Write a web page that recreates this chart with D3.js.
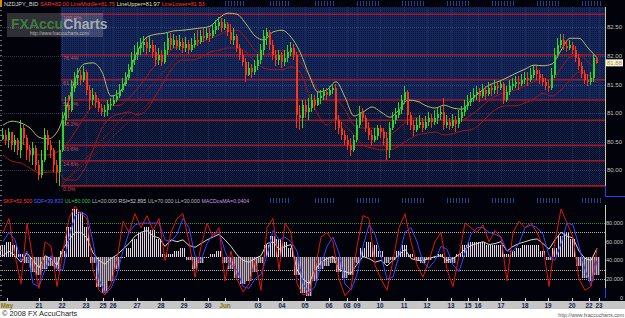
<!DOCTYPE html>
<html>
<head>
<meta charset="utf-8">
<title>NZDJPY_BID</title>
<script src="https://cdn.jsdelivr.net/npm/d3@7"></script>
<style>
  body { margin: 0; background: #fff; }
  svg { display: block; font-family: "Liberation Sans", Arial, sans-serif; }
</style>
</head>
<body>
<svg id="chart" width="625" height="318"></svg>
<script>
// ---- price bars (open = previous close) ----
const firstOpen = 80.55;
const closes = [
  80.62,80.53,80.67,80.44,80.53,80.36,80.74,80.57,80.36,80.27,
  80.39,80.09,79.92,80.18,80.62,80.44,80.36,80.09,79.97,80.36,
  80.88,81.14,81.06,81.44,81.62,81.67,81.58,81.72,81.41,81.23,
  81.32,81.20,81.09,81.02,81.06,81.16,81.16,81.23,81.30,81.41,
  81.51,81.62,81.72,81.93,82.02,82.14,82.19,82.24,82.14,82.19,
  82.07,81.93,82.02,81.90,82.10,82.31,82.19,82.28,82.17,82.24,
  82.14,82.21,82.10,82.19,82.28,82.24,82.35,82.31,82.40,82.35,
  82.45,82.52,82.59,82.49,82.56,82.42,82.28,82.35,82.14,82.02,
  81.90,81.67,81.79,81.72,81.83,81.93,82.10,82.35,82.42,82.19,
  82.02,81.93,82.02,81.90,81.97,82.07,82.14,82.02,80.97,80.92,
  81.14,81.02,81.09,81.23,81.14,81.27,81.30,81.37,81.32,81.41,
  81.44,80.88,80.74,80.62,80.53,80.44,80.36,80.53,80.79,81.02,
  80.92,80.74,80.62,80.53,80.60,80.74,80.67,80.57,80.36,80.74,
  80.88,80.97,81.06,81.23,81.37,80.97,80.79,80.71,80.79,80.85,
  80.74,80.85,80.92,80.85,80.92,80.99,81.02,80.79,80.85,80.78,
  80.88,80.81,80.92,81.02,81.13,81.20,81.27,81.32,81.37,81.30,
  81.41,81.34,81.44,81.41,81.48,81.44,81.51,81.23,81.37,81.48,
  81.51,81.55,81.51,81.58,81.62,81.58,81.67,81.76,81.69,81.62,
  81.55,81.48,81.44,81.67,82.02,82.19,82.28,82.17,82.14,82.19,
  82.10,81.97,81.83,81.69,81.58,81.55,81.62,81.97,81.88
];
const highs = [
  80.74,80.71,80.74,80.67,80.62,80.57,80.88,80.79,80.62,80.44,
  80.50,80.44,80.18,80.36,80.74,80.71,80.53,80.39,80.18,80.53,
  81.02,81.28,81.32,81.58,81.72,81.79,81.76,81.83,81.76,81.49,
  81.44,81.37,81.27,81.16,81.14,81.23,81.27,81.32,81.41,81.51,
  81.62,81.72,81.86,82.07,82.19,82.24,82.31,82.35,82.31,82.35,
  82.28,82.19,82.14,82.10,82.24,82.42,82.40,82.38,82.35,82.37,
  82.31,82.33,82.28,82.31,82.40,82.45,82.45,82.49,82.51,82.49,
  82.56,82.63,82.68,82.66,82.65,82.59,82.56,82.49,82.38,82.21,
  82.10,81.97,81.90,81.86,81.93,82.03,82.21,82.45,82.49,82.45,
  82.28,82.10,82.10,82.07,82.10,82.19,82.24,82.21,82.07,81.14,
  81.23,81.23,81.27,81.34,81.32,81.37,81.41,81.44,81.44,81.48,
  81.51,81.51,80.97,80.85,80.71,80.62,80.57,80.62,80.92,81.13,
  81.09,80.97,80.85,80.71,80.74,80.79,80.79,80.74,80.67,80.85,
  81.02,81.09,81.20,81.32,81.48,81.41,81.02,80.88,80.92,80.97,
  80.92,80.95,81.02,80.99,81.06,81.09,81.13,81.27,80.97,80.92,
  80.99,80.95,81.06,81.13,81.23,81.32,81.37,81.44,81.48,81.44,
  81.51,81.48,81.55,81.51,81.58,81.55,81.58,81.55,81.48,81.58,
  81.62,81.65,81.65,81.69,81.72,81.72,81.79,81.84,81.83,81.76,
  81.69,81.62,81.58,81.79,82.14,82.31,82.38,82.38,82.28,82.28,
  82.24,82.17,82.03,81.90,81.76,81.69,81.72,82.02,81.97
];
const lows = [
  80.53,80.44,80.39,80.36,80.32,80.27,80.22,80.44,80.18,80.15,
  80.09,80.01,79.83,79.87,80.15,80.36,80.22,79.97,79.78,79.73,
  80.32,80.79,80.92,81.02,81.37,81.49,81.49,81.55,81.32,81.06,
  81.14,81.09,81.02,80.95,80.93,80.95,81.06,81.13,81.20,81.27,
  81.37,81.48,81.58,81.72,81.84,81.93,82.02,82.07,82.02,82.07,
  81.97,81.83,81.84,81.83,81.86,82.02,82.10,82.14,82.10,82.10,
  82.05,82.07,82.03,82.07,82.14,82.17,82.21,82.24,82.28,82.24,
  82.31,82.38,82.45,82.42,82.45,82.35,82.21,82.19,82.07,81.93,
  81.83,81.55,81.65,81.62,81.67,81.76,81.86,82.02,82.19,82.10,
  81.93,81.83,81.84,81.79,81.83,81.90,82.00,81.93,80.74,80.71,
  80.74,80.92,80.88,81.02,81.06,81.13,81.16,81.23,81.23,81.30,
  81.34,80.71,80.64,80.53,80.44,80.36,80.25,80.32,80.50,80.74,
  80.85,80.67,80.53,80.44,80.50,80.53,80.57,80.44,80.18,80.22,
  80.71,80.81,80.92,80.99,81.16,80.79,80.71,80.60,80.67,80.74,
  80.67,80.71,80.78,80.74,80.79,80.81,80.88,80.71,80.74,80.71,
  80.74,80.67,80.74,80.85,80.95,81.06,81.13,81.20,81.23,81.20,
  81.27,81.23,81.30,81.30,81.34,81.34,81.41,81.16,81.20,81.32,
  81.41,81.44,81.41,81.48,81.51,81.48,81.55,81.62,81.58,81.51,
  81.48,81.41,81.37,81.41,81.62,81.97,82.14,82.10,82.07,82.10,
  82.03,81.90,81.76,81.62,81.51,81.48,81.49,81.55,81.86
];

// envelope lines, one value every 3 bars
const bandStep = 3;
const bandUpper = [
  80.79,80.86,80.83,80.74,80.58,80.55,80.67,81.06,81.58,81.86,
  81.88,81.72,81.30,81.37,81.72,82.10,82.33,82.38,82.40,82.44,
  82.45,82.47,82.49,82.52,82.66,82.75,82.73,82.56,82.35,82.28,
  82.42,82.45,82.33,82.07,81.67,81.37,81.41,81.55,81.28,80.95,
  81.02,81.11,81.02,80.93,81.06,81.23,81.21,81.13,81.09,81.14,
  81.09,81.07,81.23,81.37,81.49,81.55,81.62,81.70,81.77,81.84,
  81.83,81.86,82.10,82.31,82.31,82.14,81.97
];
const bandMiddle = [
  80.53,80.51,80.48,80.39,80.27,80.27,80.32,80.44,80.67,80.92,
  81.14,81.23,81.13,81.14,81.27,81.44,81.65,81.86,82.02,82.14,
  82.17,82.19,82.24,82.30,82.37,82.44,82.45,82.31,82.10,82.02,
  82.07,82.10,82.07,81.90,81.67,81.41,81.23,81.23,81.06,80.79,
  80.74,80.74,80.71,80.64,80.74,80.88,80.92,80.88,80.88,80.88,
  80.86,80.88,80.97,81.09,81.23,81.32,81.37,81.41,81.48,81.55,
  81.60,81.58,81.79,81.98,82.02,81.90,81.75
];
const bandLower = [
  80.27,80.16,80.13,80.04,79.95,79.97,79.97,79.83,79.83,80.01,
  80.36,80.74,80.93,80.99,81.02,80.97,81.06,81.32,81.58,81.83,
  81.93,81.93,81.98,82.07,82.10,82.14,82.14,82.07,81.90,81.79,
  81.76,81.76,81.81,81.72,81.32,80.97,80.79,80.92,80.79,80.62,
  80.44,80.39,80.36,80.36,80.43,80.53,80.62,80.65,80.67,80.62,
  80.64,80.69,80.71,80.81,80.97,81.09,81.13,81.13,81.18,81.25,
  81.35,81.30,81.41,81.58,81.72,81.67,81.53
];

// oscillators, one value every 2 bars
const oscStep = 2;
const stochK = [
  70,85,45,15,80,40,10,60,55,12, 50,85,98,90,85,30,8,3,15,40,
  82,70,90,75,88,72,85,40,70,85, 90,60,22,55,80,65,75,18,50,20,
  6,15,40,8,75,85,30,80,70,15, 3,5,30,65,70,60,20,2,10,55,
  88,85,35,20,8,40,75,90,60,35, 22,40,60,70,30,12,45,80,75,70,
  78,60,72,65,18,70,82,75,80,70, 55,12,60,95,80,65,20,8,12,52.5
];
const stochD = [
  60,70,62,40,50,15,12,30,45,30, 30,65,88,92,88,60,20,5,10,25,
  50,70,78,80,80,80,80,62,60,68, 85,75,45,40,58,68,70,50,35,30,
  12,10,20,25,45,72,62,65,60,50, 15,5,12,35,55,65,48,15,8,25,
  55,78,68,45,20,22,45,70,75,60, 38,32,40,55,52,35,28,48,68,75,
  75,70,68,65,50,50,58,75,78,75, 68,45,40,58,80,78,55,30,13,39.8
];
const rsi = [
  45,50,45,38,48,40,32,45,42,35, 52,62,70,70,64,48,40,36,42,46,
  52,58,66,70,72,66,64,55,62,60, 62,56,54,58,62,65,68,62,55,46,
  40,38,42,45,58,60,52,55,57,30, 20,15,30,38,42,44,30,28,26,36,
  44,42,38,40,34,40,46,52,42,40, 40,42,44,45,40,42,46,52,56,58,
  60,57,58,60,50,55,58,60,62,63, 58,52,62,70,66,64,50,42,40,52.9
];
const osma = [
  0.04,0.05,0.04,0.01,-0.02,-0.05,-0.06,-0.04,-0.03,-0.04,
  0.02,0.10,0.16,0.15,0.10,-0.02,-0.10,-0.12,-0.08,-0.04,
  0.00,0.03,0.06,0.08,0.10,0.09,0.06,0.01,0.01,0.02,
  0.03,-0.01,-0.04,-0.02,0.00,0.01,0.02,-0.02,-0.04,-0.07,
  -0.09,-0.08,-0.05,-0.02,0.04,0.07,0.06,0.05,0.03,-0.06,
  -0.12,-0.13,-0.08,-0.04,-0.03,-0.02,-0.05,-0.07,-0.06,-0.02,
  0.03,0.05,0.04,0.02,-0.02,-0.01,0.02,0.04,0.01,-0.01,
  -0.02,-0.01,0.00,0.01,-0.02,-0.02,0.01,0.04,0.05,0.05,
  0.05,0.04,0.04,0.04,0.01,0.02,0.03,0.04,0.04,0.04,
  0.02,-0.01,0.03,0.07,0.08,0.06,-0.03,-0.07,-0.08,-0.06
];

const priceTicks = [82.5, 82.0, 81.5, 81.0, 80.5, 80.0];
const oscTicks = [80, 60, 40, 20, 0];
const fibLevels = [1, 0.764, 0.618, 0.5, 0.382, 0.236, 0.146, 0];
const fibLabels = ["100.0%", "76.4%", "61.8%", "50.0%", "38.2%", "23.6%", "14.6%", "0.0%"];
const fibHigh = 82.73, fibLow = 79.73, fibStartBar = 19.3;
const fanLines = [[19.3, 79.73, 60, 82.10], [19.3, 79.73, 52, 81.35]];
const dayLabels = ["May","21","22","23","25","26","27","28","29","30","Jun","03","04","05",
  "06","08","09","10","11","12","13","15","16","17","18","19","20","22","23"];
const dayBars = [1.3,12,19.7,27.7,33.3,36.7,44.7,52.7,60.3,68.3,74,85,93,100.7,
  108.7,114.7,118,125.7,133.7,141.3,149.3,155,158.3,166,174,181.7,189.7,195.3,198.7];
const titleParts = [
  ["NZDJPY_BID", "#d8d8d8"], ["SAR=82.00", "#ff3030"], ["LineMiddle=81.75", "#ff3030"],
  ["LineUpper=81.97", "#e0e0b8"], ["LineLower=81.53", "#ff3030"]
];
const oscParts = [
  ["SKF=52.500", "#ff3030"], ["SDF=39.833", "#4a5cff"], ["UL=80.000", "#30c050"],
  ["LL=20.000", "#b8b8b8"], ["RSI=52.895", "#c8c8c8"], ["UL=70.000", "#b8b8b8"],
  ["LL=30.000", "#b8b8b8"], ["MACDosMA=0.0404", "#c898e0"]
];

// ---- layout ----
const svg = d3.select("#chart");
const W = 625;
const plotR = 605;
const mainTop = 7, mainBot = 196;
const oscTop = 205, oscBot = 298;

const x = d3.scaleLinear().domain([0, closes.length - 1]).range([3, 597]);
const y = d3.scaleLinear().domain([80, 82.5]).range([170.4, 27.4]);
const yo = d3.scaleLinear().domain([0, 100]).range([297.7, 204.4]);
const ym = d3.scaleLinear().domain([-0.15, 0.15]).range([302, 212]);

const defs = svg.append("defs");
function pattern(id, w, h, bg, cells) {
  const p = defs.append("pattern").attr("id", id)
    .attr("width", w).attr("height", h).attr("patternUnits", "userSpaceOnUse");
  if (bg) p.append("rect").attr("width", w).attr("height", h).attr("fill", bg);
  cells.forEach(c => p.append("rect").attr("x", c[0]).attr("y", c[1])
    .attr("width", c[2]).attr("height", c[3]).attr("fill", c[4]));
}
pattern("fibTop", 2, 2, "#15275a", [[1, 1, 1, 1, "#0a1638"]]);
pattern("fibLow", 2, 2, "#13234f", [[1, 0, 1, 1, "#050a1e"], [0, 1, 1, 1, "#050a1e"]]);
pattern("posBars", 2, 2, null, [[0, 0, 1, 2, "#e2d4e2"]]);
pattern("negBars", 2, 2, "#463e48", [[0, 0, 1, 2, "#c2b2c2"]]);
pattern("ticks", 3, 5, null, [[0, 0, 1, 5, "#28408a"]]);

defs.append("clipPath").attr("id", "clipMain").append("rect")
  .attr("x", 0).attr("y", mainTop).attr("width", plotR).attr("height", mainBot - mainTop);
defs.append("clipPath").attr("id", "clipOsc").append("rect")
  .attr("x", 0).attr("y", oscTop).attr("width", plotR).attr("height", oscBot - oscTop);

// backgrounds
svg.append("rect").attr("width", W).attr("height", 318).attr("fill", "#fff");
svg.append("rect").attr("width", W).attr("height", 301).attr("fill", "#02020a");
svg.append("rect").attr("y", 301).attr("width", W).attr("height", 8).attr("fill", "#c6c6c6");

// ---- main panel ----
const main = svg.append("g").attr("clip-path", "url(#clipMain)");
const fibLeft = x(fibStartBar);
const fibY = lv => y(fibLow + lv * (fibHigh - fibLow));

main.append("rect").attr("x", fibLeft).attr("y", mainTop)
  .attr("width", plotR - fibLeft).attr("height", fibY(0.5) - mainTop).attr("fill", "url(#fibTop)");
main.append("rect").attr("x", fibLeft).attr("y", fibY(0.5))
  .attr("width", plotR - fibLeft).attr("height", fibY(0) - fibY(0.5)).attr("fill", "url(#fibLow)");

// faint grid
main.selectAll("line.hgrid").data(priceTicks).join("line")
  .attr("x1", 0).attr("x2", plotR)
  .attr("y1", d => Math.round(y(d)) + 0.5).attr("y2", d => Math.round(y(d)) + 0.5)
  .attr("stroke", "#6f86c8").attr("stroke-opacity", 0.35).attr("stroke-dasharray", "1,1");
main.selectAll("line.vgrid").data(dayBars.filter(b => x(b) > fibLeft)).join("line")
  .attr("x1", d => Math.round(x(d)) + 0.5).attr("x2", d => Math.round(x(d)) + 0.5)
  .attr("y1", mainTop).attr("y2", fibY(0))
  .attr("stroke", "#6f86c8").attr("stroke-opacity", 0.22).attr("stroke-dasharray", "1,1");

// fibonacci levels
main.selectAll("line.fib").data(fibLevels).join("line")
  .attr("x1", fibLeft).attr("x2", plotR)
  .attr("y1", d => fibY(d)).attr("y2", d => fibY(d))
  .attr("stroke", "#a3162a").attr("stroke-width", 1.6);
main.selectAll("text.fib").data(fibLevels).join("text")
  .attr("x", fibLeft + 2).attr("y", d => fibY(d) + 5.5)
  .attr("font-size", 5.5).attr("fill", "#c84a64")
  .text((d, i) => fibLabels[i]);

// fan lines from the swing low
main.selectAll("line.fan").data(fanLines).join("line")
  .attr("x1", d => x(d[0])).attr("y1", d => y(d[1]))
  .attr("x2", d => x(d[2])).attr("y2", d => y(d[3]))
  .attr("stroke", "#8e1020").attr("stroke-dasharray", "2,1");

// envelope lines
const bandLine = d3.line().x((d, k) => x(k * bandStep)).y(d => y(d)).curve(d3.curveMonotoneX);
main.append("path").datum(bandLower).attr("d", bandLine)
  .attr("fill", "none").attr("stroke", "#a3141c");
main.append("path").datum(bandMiddle).attr("d", bandLine)
  .attr("fill", "none").attr("stroke", "#a3141c");
main.append("path").datum(bandUpper).attr("d", bandLine)
  .attr("fill", "none").attr("stroke", "#b9b96c");

// candles
const bars = closes.map((c, i) => {
  const o = i === 0 ? firstOpen : closes[i - 1];
  return { i, o, c, h: Math.max(highs[i], o, c), l: Math.min(lows[i], o, c) };
});
const colorOf = d => d.c >= d.o ? "#2ad626" : "#ff3414";
const cg = main.append("g").attr("shape-rendering", "crispEdges");
cg.selectAll("rect.wick").data(bars).join("rect")
  .attr("x", d => Math.round(x(d.i)) - 1).attr("width", 1)
  .attr("y", d => y(d.h)).attr("height", d => Math.max(1, y(d.l) - y(d.h)))
  .attr("fill", colorOf);
cg.selectAll("rect.body").data(bars).join("rect")
  .attr("x", d => Math.round(x(d.i)) - 1).attr("width", 2)
  .attr("y", d => y(Math.max(d.o, d.c)))
  .attr("height", d => Math.max(1, Math.abs(y(d.o) - y(d.c))))
  .attr("fill", colorOf);

// watermark
const wm = svg.append("g");
wm.append("rect").attr("x", 7).attr("y", 13).attr("width", 96).attr("height", 24)
  .attr("fill", "#fff").attr("fill-opacity", 0.18);
wm.append("text").attr("x", 11).attr("y", 29).attr("font-size", 14).attr("font-weight", "bold")
  .attr("fill", "#428a3c").attr("fill-opacity", 0.85).text("FXAccu")
  .each(function () {
    const w = this.getComputedTextLength();
    wm.append("text").attr("x", 11 + w).attr("y", 29).attr("font-size", 14).attr("font-weight", "bold")
      .attr("fill", "#bdbdbd").attr("fill-opacity", 0.85).text("Charts");
  });
wm.append("text").attr("x", 30).attr("y", 35).attr("font-size", 4.6).attr("fill", "#b8b8b8")
  .text("http://www.fxaccucharts.com/");

// price axis
svg.append("rect").attr("x", plotR).attr("y", 0).attr("width", W - plotR).attr("height", oscBot).attr("fill", "#02020a");
svg.append("line").attr("x1", plotR + 0.5).attr("x2", plotR + 0.5).attr("y1", mainTop).attr("y2", mainBot)
  .attr("stroke", "#c8c8a8");
svg.append("line").attr("x1", plotR + 0.5).attr("x2", plotR + 0.5).attr("y1", fibY(0)).attr("y2", mainBot)
  .attr("stroke", "#2040ff");
svg.append("line").attr("x1", plotR).attr("x2", W).attr("y1", mainBot + 0.5).attr("y2", mainBot + 0.5)
  .attr("stroke", "#2040ff");
svg.selectAll("text.ptick").data(priceTicks).join("text")
  .attr("x", 622).attr("y", d => y(d) + 2).attr("text-anchor", "end")
  .attr("font-size", 6).attr("fill", "#c4c4c4").text(d => d.toFixed(2));
const last = closes[closes.length - 1];
svg.append("rect").attr("x", 606).attr("y", y(last) - 3.5).attr("width", 17).attr("height", 7)
  .attr("fill", "#f4f4dc");
svg.append("text").attr("x", 622).attr("y", y(last) + 2.2).attr("text-anchor", "end")
  .attr("font-size", 6).attr("fill", "#b08a30").text(last.toFixed(2));

// a row of coloured text pieces, laid out left to right and fitted to a width
function textRow(parts, x0, yBase, width) {
  const probe = parts.map(p => svg.append("text").attr("font-size", 10).text(p[0]));
  const natural = probe.reduce((s, t) => s + t.node().getComputedTextLength(), 0) + 3 * (parts.length - 1);
  probe.forEach(t => t.remove());
  const size = 10 * width / natural;
  let cx = x0;
  parts.forEach(p => {
    const t = svg.append("text").attr("x", cx).attr("y", yBase)
      .attr("font-size", size).attr("fill", p[1]).text(p[0]);
    cx += t.node().getComputedTextLength() + size * 0.3;
  });
}

// title bar
svg.append("rect").attr("width", 2).attr("height", 7).attr("fill", "#e08a00");
textRow(titleParts, 4, 6, 201);
const tickGroups = d3.range(0, 9).map(j => 223 + 44.8 * j);
svg.selectAll("rect.tg1").data(tickGroups).join("rect")
  .attr("x", d => Math.round(d)).attr("y", 1).attr("width", 22).attr("height", 5)
  .attr("fill", "url(#ticks)");

// ---- oscillator panel ----
textRow(oscParts, 3, 203, 247);
svg.selectAll("rect.tg2").data(tickGroups.slice(1)).join("rect")
  .attr("x", d => Math.round(d)).attr("y", 198).attr("width", 22).attr("height", 5)
  .attr("fill", "url(#ticks)");

const osc = svg.append("g").attr("clip-path", "url(#clipOsc)");
const levelLines = [
  { v: 80, c: "#1f9a45" }, { v: 70, c: "#b4b4a4" },
  { v: 30, c: "#b4b4a4" }, { v: 20, c: "#a8a898" }
];
osc.selectAll("line.lvl").data(levelLines).join("line")
  .attr("x1", 0).attr("x2", plotR)
  .attr("y1", d => Math.round(yo(d.v)) + 0.5).attr("y2", d => Math.round(yo(d.v)) + 0.5)
  .attr("stroke", d => d.c).attr("stroke-dasharray", "1,1");

osc.append("g").attr("shape-rendering", "crispEdges")
  .selectAll("rect").data(osma).join("rect")
  .attr("x", (d, k) => Math.round(x(k * oscStep)) - 3).attr("width", 6)
  .attr("y", d => Math.min(ym(d), ym(0)))
  .attr("height", d => Math.max(1, Math.abs(ym(d) - ym(0))))
  .attr("fill", d => d >= 0 ? "url(#posBars)" : "url(#negBars)");

const oscLine = d3.line().x((d, k) => x(k * oscStep)).y(d => yo(d));
osc.append("path").datum(rsi).attr("d", oscLine)
  .attr("fill", "none").attr("stroke", "#d6d6cc");
osc.append("path").datum(stochD).attr("d", oscLine)
  .attr("fill", "none").attr("stroke", "#3a44ff");
osc.append("path").datum(stochK).attr("d", oscLine)
  .attr("fill", "none").attr("stroke", "#e21414");

svg.append("line").attr("x1", plotR + 0.5).attr("x2", plotR + 0.5).attr("y1", oscTop).attr("y2", oscBot)
  .attr("stroke", "#c8c8a8");
svg.append("line").attr("x1", plotR + 0.5).attr("x2", plotR + 0.5).attr("y1", 288).attr("y2", oscBot)
  .attr("stroke", "#2040ff");
svg.selectAll("text.otick").data(oscTicks).join("text")
  .attr("x", 623).attr("y", d => yo(d) + 2).attr("text-anchor", "end")
  .attr("font-size", 5.6).attr("fill", "#c4c4c4").text(d => d === 0 ? "0" : d.toFixed(3));

// left edge minor ticks
svg.selectAll("line.lt").data(d3.range(10, 296, 5)).join("line")
  .attr("x1", 0).attr("x2", 2).attr("y1", d => d + 0.5).attr("y2", d => d + 0.5)
  .attr("stroke", "#6a6a6a");

// ---- date axis ----
svg.selectAll("line.dtick").data(dayBars).join("line")
  .attr("x1", d => Math.round(x(d)) + 0.5).attr("x2", d => Math.round(x(d)) + 0.5)
  .attr("y1", 298).attr("y2", 301).attr("stroke", "#d0d0d0");
svg.selectAll("text.day").data(dayLabels).join("text")
  .attr("x", (d, i) => x(dayBars[i])).attr("y", 307.5).attr("text-anchor", "middle")
  .attr("font-size", 6.3).attr("font-weight", "bold")
  .attr("fill", d => /^[A-Z]/.test(d) ? "#8a7200" : "#14204e")
  .text(d => d);

// footer
svg.append("text").attr("x", 2).attr("y", 316).attr("font-size", 7.4).attr("fill", "#222")
  .text("\u00a9 2008 FX AccuCharts");
svg.append("text").attr("x", 624).attr("y", 316.5).attr("text-anchor", "end")
  .attr("font-size", 5.2).attr("fill", "#555").text("http://www.fxaccucharts.com");
</script>
</body>
</html>
